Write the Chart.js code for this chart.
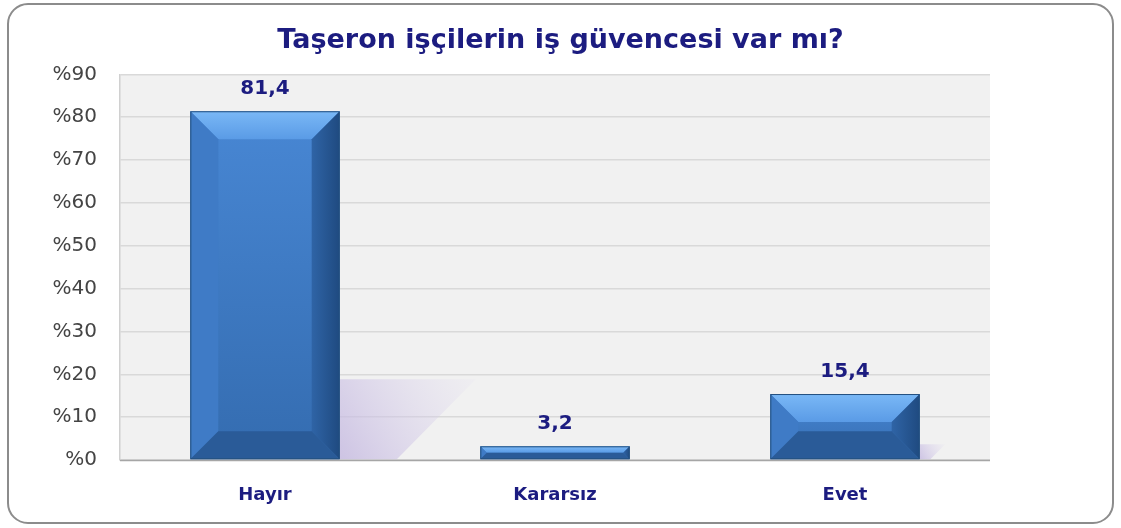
<!DOCTYPE html>
<html>
<head>
<meta charset="utf-8">
<script src="https://cdn.jsdelivr.net/npm/chart.js@4/dist/chart.umd.min.js"></script>
<style>
  html, body { margin: 0; padding: 0; background: #ffffff; }
  #wrap { width: 1121px; height: 528px; }
</style>
</head>
<body>
<div id="wrap"><canvas id="c" width="1121" height="528"></canvas></div>
<script>
const categories = ["Hayır", "Kararsız", "Evet"];
const values = [81.4, 3.2, 15.4];
const tickValues = [0, 10, 20, 30, 40, 50, 60, 70, 80, 90];
const titleText = "Taşeron işçilerin iş güvencesi var mı?";

const NAVY = "#1c1c80";
const FONT = "'DejaVu Sans', Verdana, sans-serif";

const framePlugin = {
  id: "frame",
  beforeDraw(chart) {
    const ctx = chart.ctx;
    ctx.save();
    ctx.fillStyle = "#ffffff";
    ctx.fillRect(0, 0, chart.width, chart.height);
    ctx.beginPath();
    ctx.roundRect(8, 4, chart.width - 16, chart.height - 9, 20);
    ctx.lineWidth = 2;
    ctx.strokeStyle = "#8c8c8c";
    ctx.stroke();
    const a = chart.chartArea;
    ctx.fillStyle = "#f1f1f1";
    ctx.fillRect(a.left, a.top, a.right - a.left, a.bottom - a.top);
    ctx.restore();
  }
};

const bevelPlugin = {
  id: "bevel",
  afterDatasetsDraw(chart) {
    const ctx = chart.ctx;
    const meta = chart.getDatasetMeta(0);
    const a = chart.chartArea;
    meta.data.forEach((bar, i) => {
      const p = bar.getProps(["x", "y", "base", "width"], true);
      const l = p.x - p.width / 2, r = p.x + p.width / 2, t = p.y, b = p.base;
      const h = b - t;
      const bv = Math.min(28, h / 2);
      ctx.save();
      // shadow / reflection
      const shH = h * 0.23;
      if (shH > 6) {
        const shTop = b - shH;
        const sw = shH * 1.7;
        const g0 = ctx.createLinearGradient(r, b, r + sw, shTop);
        g0.addColorStop(0, "rgba(196,184,224,0.8)");
        g0.addColorStop(1, "rgba(220,212,238,0.1)");
        ctx.fillStyle = g0;
        ctx.beginPath();
        ctx.moveTo(r, b);
        ctx.lineTo(r, shTop);
        ctx.lineTo(r + sw, shTop);
        ctx.lineTo(r + sw * 0.42, b);
        ctx.closePath();
        ctx.fill();
      }
      // center face
      const gc = ctx.createLinearGradient(0, t, 0, b);
      gc.addColorStop(0, "#4887d4");
      gc.addColorStop(1, "#346cb0");
      ctx.fillStyle = gc;
      ctx.fillRect(l, t, r - l, h);
      // top bevel
      const gt = ctx.createLinearGradient(0, t, 0, t + bv);
      gt.addColorStop(0, "#7ab8f6");
      gt.addColorStop(1, "#5a9be6");
      ctx.fillStyle = gt;
      ctx.beginPath();
      ctx.moveTo(l, t); ctx.lineTo(r, t); ctx.lineTo(r - bv, t + bv); ctx.lineTo(l + bv, t + bv); ctx.closePath(); ctx.fill();
      // left bevel
      ctx.fillStyle = "#3f7bc6";
      ctx.beginPath();
      ctx.moveTo(l, t); ctx.lineTo(l + bv, t + bv); ctx.lineTo(l + bv, b - bv); ctx.lineTo(l, b); ctx.closePath(); ctx.fill();
      // right bevel
      const gr = ctx.createLinearGradient(r - bv, 0, r, 0);
      gr.addColorStop(0, "#2f64a6");
      gr.addColorStop(1, "#1f4a80");
      ctx.fillStyle = gr;
      ctx.beginPath();
      ctx.moveTo(r, t); ctx.lineTo(r - bv, t + bv); ctx.lineTo(r - bv, b - bv); ctx.lineTo(r, b); ctx.closePath(); ctx.fill();
      // bottom bevel
      ctx.fillStyle = "#2a5b98";
      ctx.beginPath();
      ctx.moveTo(l, b); ctx.lineTo(l + bv, b - bv); ctx.lineTo(r - bv, b - bv); ctx.lineTo(r, b); ctx.closePath(); ctx.fill();
      // outline
      ctx.strokeStyle = "#24507f";
      ctx.lineWidth = 1;
      ctx.strokeRect(l + 0.5, t + 0.5, r - l - 1, h - 1);
      // value label
      ctx.fillStyle = NAVY;
      ctx.font = "bold 20px " + FONT;
      ctx.textAlign = "center";
      ctx.textBaseline = "middle";
      const v = chart.data.datasets[0].data[i];
      ctx.fillText(v.toFixed(1).replace(".", ","), p.x, t - 22);
      ctx.restore();
    });
    // axis base line
    ctx.save();
    ctx.strokeStyle = "#a6a6a6";
    ctx.lineWidth = 1.5;
    ctx.beginPath();
    ctx.moveTo(a.left, a.bottom + 0.5);
    ctx.lineTo(a.right, a.bottom + 0.5);
    ctx.stroke();
    ctx.restore();
  }
};

new Chart(document.getElementById("c"), {
  type: "bar",
  data: {
    labels: categories,
    datasets: [{
      data: values,
      backgroundColor: "rgba(0,0,0,0)",
      borderWidth: 0,
      categoryPercentage: 1,
      barPercentage: 0.515
    }]
  },
  options: {
    responsive: false,
    animation: false,
    events: [],
    layout: { padding: 0 },
    plugins: {
      legend: { display: false },
      tooltip: { enabled: false },
      title: {
        display: true,
        text: titleText,
        color: NAVY,
        font: { family: FONT, size: 27, weight: "bold", lineHeight: 1.2 },
        padding: { top: 25, bottom: 17 }
      }
    },
    scales: {
      x: {
        grid: { display: false, drawTicks: false },
        border: { display: false },
        ticks: {
          color: NAVY,
          padding: 25,
          font: { family: FONT, size: 18, weight: "bold" }
        },
        afterFit(scale) { scale.height = 68; }
      },
      y: {
        min: 0,
        max: 90,
        afterBuildTicks(scale) { scale.ticks = tickValues.map(v => ({ value: v })); },
        grid: { color: "#d9d9d9", lineWidth: 1.5, drawTicks: false },
        border: { display: true, color: "#d0d0d0", width: 1.5 },
        ticks: {
          color: "#444444",
          padding: 23,
          font: { family: FONT, size: 20 },
          callback: (v) => "%" + v
        },
        afterFit(scale) { scale.width = 120; }
      },
      yr: {
        position: "right",
        display: true,
        min: 0,
        max: 90,
        grid: { display: false, drawTicks: false },
        border: { display: false },
        ticks: { display: false },
        afterFit(scale) { scale.width = 131; }
      }
    }
  },
  plugins: [framePlugin, bevelPlugin]
});
</script>
</body>
</html>
